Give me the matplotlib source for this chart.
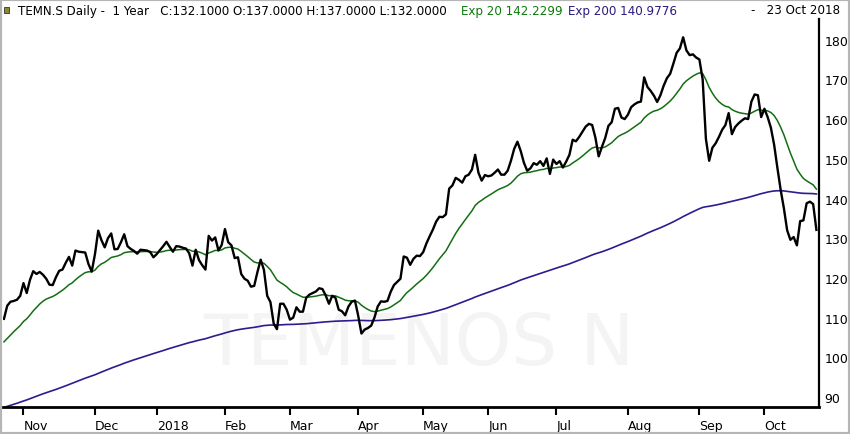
import numpy as np
import pandas as pd
import matplotlib
matplotlib.use("Agg")
import matplotlib.pyplot as plt
from matplotlib.patches import Rectangle

# daily closes, one list per month
close_oct17 = [109.7, 113, 114, 114.2, 114.5, 115.5]
close_nov = [118.7, 116.2, 119.5, 121.7, 121, 121.5, 120.8, 119.8, 118.3, 118.2, 120.2,
             121.8, 122.1, 123.8, 125.3, 123.1, 126.9, 126.6, 126.5, 126.4, 123.5, 121.6]
close_dec = [126, 131.9, 129.5, 127.7, 130, 131.2, 127.2, 127.3, 129, 131, 128, 127.3,
             126.8, 126.1, 127.1, 127, 126.9, 126.5, 125.2]
close_jan = [126, 127, 128, 129.1, 127.8, 126.6, 128, 127.9, 127.6, 127.4, 126.2, 123.1,
             127.1, 124.5, 123.2, 122.1, 130.6, 129.4, 130.2, 126.9, 128.3]
close_feb = [132.3, 129, 128.2, 125, 125.2, 121, 119.8, 119.3, 117.8, 118, 121.5, 124.6,
             122, 115.5, 113.9, 108.5, 107.1, 113.5, 113.5, 112]
close_mar = [109.5, 110, 112.6, 111.5, 111.5, 115, 115.8, 116.2, 116.6, 117.4, 117.2,
             115.6, 113.5, 115.5, 115, 112, 111.6, 110.6, 112.8, 114, 114.3]
close_apr = [110.5, 106, 107, 107.4, 108, 110, 112.8, 114.1, 114, 114.2, 116.5, 118.2,
             119, 119.8, 125.4, 125.1, 123.3, 124.8, 125.6, 125.5]
close_may = [126.5, 128.7, 130.5, 132.2, 134.2, 135.4, 135.3, 136, 142.5, 143.3, 145.2,
             144.7, 144, 145.6, 146, 147.3, 151, 146.5, 144.5, 145.9]
close_jun = [145.6, 145.8, 146.5, 147.3, 146, 146, 147, 149.5, 152.5, 154.3, 152, 149,
             147, 147.6, 148.9, 148.5, 149.4, 148.2, 150.1, 146.2, 149.8]
close_jul = [148.7, 149.4, 147.8, 149.3, 151, 154.8, 154.4, 155.5, 156.8, 158.1, 158.8,
             158.5, 155.3, 150.6, 153, 155.2, 158.3, 159.2, 162.6, 162.8, 160.4, 160]
close_aug = [161.1, 163, 163.7, 164.2, 164.4, 170.5, 168.1, 167.1, 165.9, 164.3, 166,
             168.4, 170.3, 171.4, 174, 176.7, 177.8, 180.6, 177.3, 176.1, 176.3, 175.5]
close_sep = [175, 170, 155, 149.5, 152.8, 153.9, 155.5, 157.3, 158.5, 161.5, 156.2, 158,
             158.9, 159.6, 160.2, 160, 164.4, 166.2, 166, 160.5]
close_oct18 = [162.6, 160.5, 157.8, 153.5, 147.7, 142.2, 137.5, 132, 129.6, 130.3, 128.2,
               134.3, 134.5, 138.8, 139.2, 138.6, 132.1]

# moving average levels at the first day of the chart
ema20_start = 103.9
ema200_start = 87.4

holidays = ["2017-12-25", "2017-12-26", "2018-01-01", "2018-01-02", "2018-03-30",
            "2018-04-02", "2018-05-01", "2018-05-10", "2018-05-21", "2018-08-01"]
month_labels = ["Nov", "Dec", "2018", "Feb", "Mar", "Apr", "May", "Jun", "Jul", "Aug", "Sep", "Oct"]
y_ticks = [90, 100, 110, 120, 130, 140, 150, 160, 170, 180]

close = np.array(close_oct17 + close_nov + close_dec + close_jan + close_feb + close_mar
                 + close_apr + close_may + close_jun + close_jul + close_aug + close_sep
                 + close_oct18)

days = pd.bdate_range("2017-10-24", "2018-10-23")
days = days[~days.isin(pd.to_datetime(holidays))]
idx = np.arange(len(close))


def ema(values, span, start):
    alpha = 2.0 / (span + 1)
    out = np.zeros(len(values))
    level = start
    for i, v in enumerate(values):
        if i > 0:
            level = level + alpha * (v - level)
        out[i] = level
    return out


ema20 = ema(close, 20, ema20_start)
ema200 = ema(close, 200, ema200_start)

# first trading day of each month
month_start = [i for i in range(1, len(days)) if days[i].month != days[i - 1].month]

fig = plt.figure(figsize=(8.5, 4.35), dpi=100)
ax = fig.add_axes([3 / 850, 27 / 435, 816 / 850, 388 / 435])

ax.text(0.51, 0.16, "TEMENOS N", transform=ax.transAxes, fontsize=52, color="#f4f4f4",
        ha="center", va="center", zorder=0)

ax.plot(idx, ema200, color="#2f1a8e", linewidth=1.2, zorder=2)
ax.plot(idx, ema20, color="#136e13", linewidth=1.1, zorder=3)
ax.plot(idx, close, color="black", linewidth=1.7, zorder=4)

ax.set_xlim(-0.3, 250.8)
ax.set_ylim(87.5, 185.2)

ax.set_xticks(month_start)
ax.set_xticklabels(month_labels[:len(month_start)])
for lab in ax.get_xticklabels():
    lab.set_ha("left")
ax.tick_params(axis="x", direction="out", length=6, width=1.5, color="black",
               labelsize=9, pad=3)

ax.yaxis.tick_right()
ax.set_yticks(y_ticks)
ax.tick_params(axis="y", length=0, labelsize=9, pad=4)

for side in ["left", "top"]:
    ax.spines[side].set_visible(False)
ax.spines["bottom"].set_linewidth(2)
ax.spines["right"].set_linewidth(1.6)

# header line
ty = 1 - 11 / 435
fig.text(18 / 850, ty, "TEMN.S Daily -  1 Year   C:132.1000 O:137.0000 H:137.0000 L:132.0000",
         fontsize=8.6, color="black", va="center")
fig.text(461 / 850, ty, "Exp 20 142.2299", fontsize=8.6, color="#0b7a0b", va="center")
fig.text(568 / 850, ty, "Exp 200 140.9776", fontsize=8.6, color="#2a1a80", va="center")
fig.text(840 / 850, ty, "-   23 Oct 2018", fontsize=8.6, color="black", va="center", ha="right")
fig.patches.append(Rectangle((4 / 850, 1 - 14 / 435), 5 / 850, 6 / 435, transform=fig.transFigure,
                             facecolor="#8a8a30", edgecolor="#333333", linewidth=0.6))

fig.patches.append(Rectangle((0, 0), 1, 1, transform=fig.transFigure, fill=False,
                             edgecolor="#b5b5b5", linewidth=3))

fig.savefig("out.png", dpi=100)
